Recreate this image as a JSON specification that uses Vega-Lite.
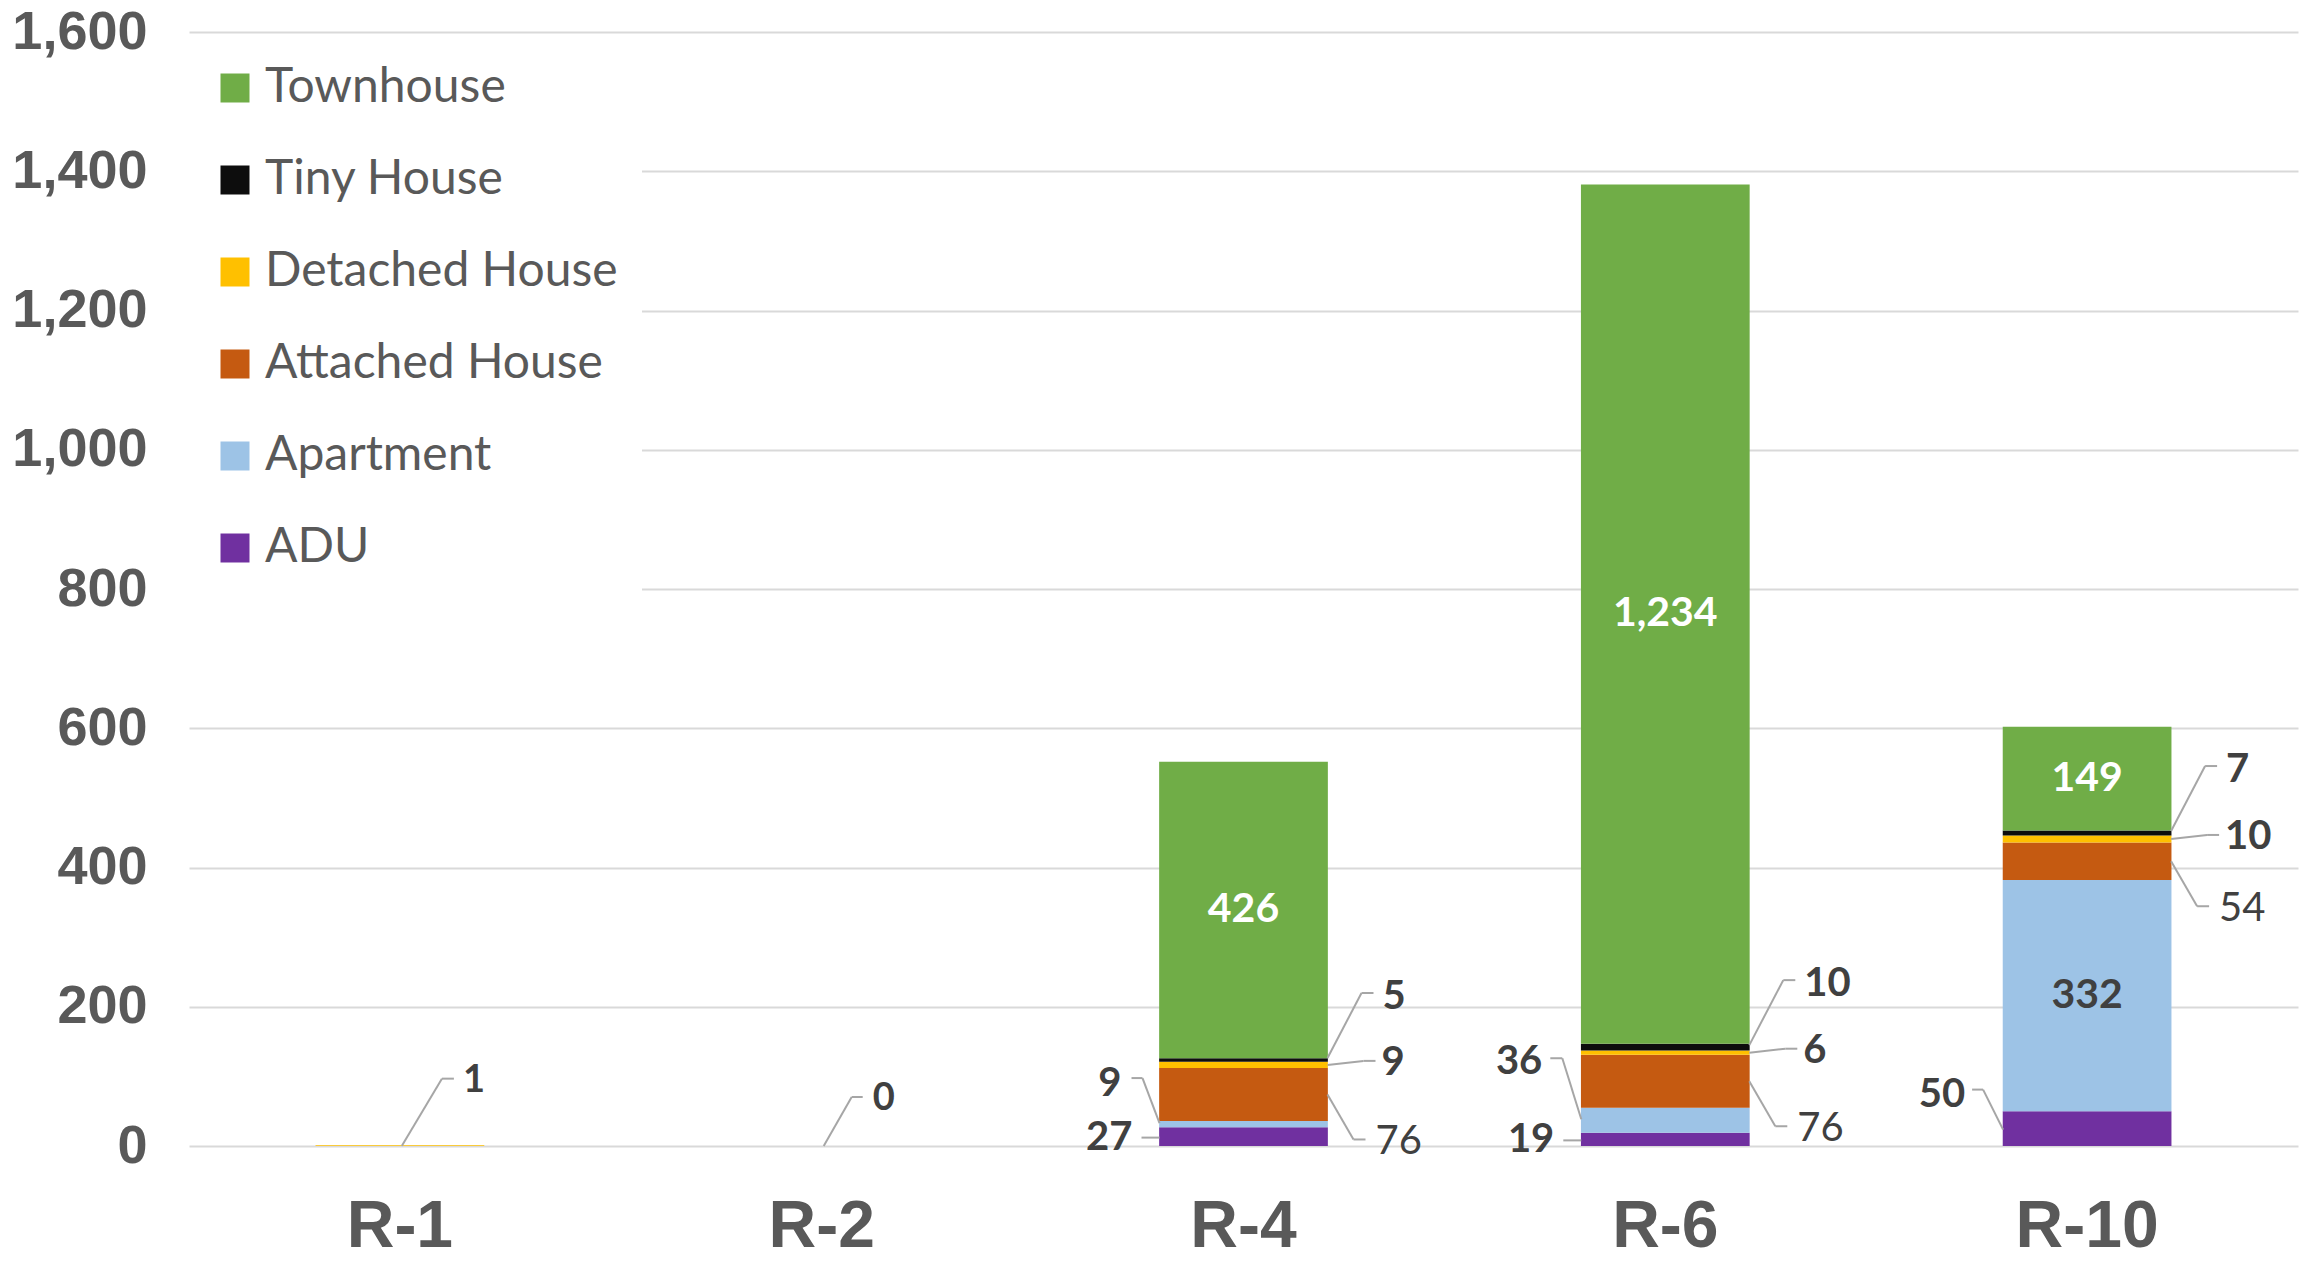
{
  "$schema": "https://vega.github.io/schema/vega-lite/v6.json",
  "width": 2109,
  "height": 1114,
  "autosize": {"type": "none"},
  "padding": {"left": 189, "top": 32, "right": 7, "bottom": 115},
  "background": "white",
  "config": {
    "view": {"stroke": null},
    "axisY": {"ticks": false, "domain": false, "grid": true, "gridColor": "#d9d9d9", "gridWidth": 2,
      "tickCount": 8, "labelExpr": "format(datum.value, ',')",
      "labelFont": "Liberation Sans", "labelFontWeight": "bold", "labelFontSize": 54,
      "labelColor": "#595959", "labelPadding": 42}
  },
  "data": {
    "values": [
      {"zone": "R-1", "type": "Detached House", "value": 1},
      {"zone": "R-2", "type": "Detached House", "value": 0},
      {"zone": "R-4", "type": "ADU", "value": 27},
      {"zone": "R-4", "type": "Apartment", "value": 9},
      {"zone": "R-4", "type": "Attached House", "value": 76},
      {"zone": "R-4", "type": "Detached House", "value": 9},
      {"zone": "R-4", "type": "Tiny House", "value": 5},
      {"zone": "R-4", "type": "Townhouse", "value": 426},
      {"zone": "R-6", "type": "ADU", "value": 19},
      {"zone": "R-6", "type": "Apartment", "value": 36},
      {"zone": "R-6", "type": "Attached House", "value": 76},
      {"zone": "R-6", "type": "Detached House", "value": 6},
      {"zone": "R-6", "type": "Tiny House", "value": 10},
      {"zone": "R-6", "type": "Townhouse", "value": 1234},
      {"zone": "R-10", "type": "ADU", "value": 50},
      {"zone": "R-10", "type": "Apartment", "value": 332},
      {"zone": "R-10", "type": "Attached House", "value": 54},
      {"zone": "R-10", "type": "Detached House", "value": 10},
      {"zone": "R-10", "type": "Tiny House", "value": 7},
      {"zone": "R-10", "type": "Townhouse", "value": 149}
    ]
  },
  "transform": [
    {"stack": "value", "groupby": ["zone"], "sort": [{"field": "type", "order": "ascending"}], "as": ["v0", "v1"]},
    {"calculate": "(datum.v0 + datum.v1) / 2", "as": "mid"}
  ],
  "encoding": {
    "x": {
      "field": "zone", "type": "nominal",
      "sort": ["R-1", "R-2", "R-4", "R-6", "R-10"],
      "scale": {"paddingInner": 0.6, "paddingOuter": 0.3},
      "axis": {"title": null, "labelAngle": 0, "ticks": false, "domain": false,
        "labelFont": "Liberation Sans", "labelFontWeight": "bold", "labelFontSize": 66,
        "labelColor": "#595959", "labelPadding": 100, "labelBaseline": "alphabetic"}
    }
  },
  "layer": [
    {
      "mark": {"type": "bar"},
      "encoding": {
        "y": {"field": "v0", "type": "quantitative", "title": null,
          "scale": {"domain": [0, 1600], "nice": false}},
        "y2": {"field": "v1"},
        "color": {"field": "type", "type": "nominal",
          "scale": {"domain": ["Townhouse", "Tiny House", "Detached House", "Attached House", "Apartment", "ADU"],
            "range": ["#70AD47", "#0D0D0D", "#FFC000", "#C55A11", "#9DC3E6", "#7030A0"]},
          "legend": {"title": null, "orient": "none", "legendX": -2, "legendY": 8,
            "symbolType": "square", "symbolSize": 841, "symbolStrokeWidth": 0,
            "labelFont": "Lato", "labelFontSize": 48, "labelColor": "#595959", "labelOffset": 6,
            "rowPadding": 44, "padding": 24, "fillColor": "white", "labelLimit": 700}}
      }
    },
    {
      "transform": [{"filter": "datum.type === 'Townhouse'"}],
      "mark": {"type": "text", "font": "Lato", "fontWeight": "bold", "fontSize": 41, "color": "white", "baseline": "middle"},
      "encoding": {
        "y": {"field": "mid", "type": "quantitative", "title": null},
        "text": {"field": "value", "type": "quantitative", "format": ","}
      }
    },
    {
      "transform": [{"filter": "datum.type === 'Apartment' && datum.zone === 'R-10'"}],
      "mark": {"type": "text", "font": "Lato", "fontWeight": "bold", "fontSize": 41, "color": "#404040", "baseline": "middle"},
      "encoding": {
        "y": {"field": "mid", "type": "quantitative", "title": null},
        "text": {"field": "value", "type": "quantitative", "format": ","}
      }
    },
    {
      "transform": [{"filter": "datum.type === 'Tiny House'"}],
      "encoding": {"y": {"field": "mid", "type": "quantitative", "title": null}},
      "layer": [
        {"mark": {"type": "rule", "color": "#a6a6a6", "strokeWidth": 2, "xOffset": 84, "x2Offset": 118, "yOffset": -2, "y2Offset": -67},
         "encoding": {"x2": {"field": "zone", "bandPosition": 0.5}, "y2": {"field": "mid"}}},
        {"mark": {"type": "rule", "color": "#a6a6a6", "strokeWidth": 2, "xOffset": 118, "x2Offset": 130, "yOffset": -67, "y2Offset": -67},
         "encoding": {"x2": {"field": "zone", "bandPosition": 0.5}, "y2": {"field": "mid"}}},
        {"mark": {"type": "text", "font": "Lato", "fontWeight": "bold", "fontSize": 40, "color": "#404040", "baseline": "middle", "align": "left", "dx": 139, "dy": -63},
         "encoding": {"text": {"field": "value", "type": "quantitative", "format": ","}}}
      ]
    },
    {
      "transform": [{"filter": "datum.type === 'Detached House' && datum.zone !== 'R-1' && datum.zone !== 'R-2'"}],
      "encoding": {"y": {"field": "mid", "type": "quantitative", "title": null}},
      "layer": [
        {"mark": {"type": "rule", "color": "#a6a6a6", "strokeWidth": 2, "xOffset": 84, "x2Offset": 120, "yOffset": 0, "y2Offset": -4},
         "encoding": {"x2": {"field": "zone", "bandPosition": 0.5}, "y2": {"field": "mid"}}},
        {"mark": {"type": "rule", "color": "#a6a6a6", "strokeWidth": 2, "xOffset": 120, "x2Offset": 132, "yOffset": -4, "y2Offset": -4},
         "encoding": {"x2": {"field": "zone", "bandPosition": 0.5}, "y2": {"field": "mid"}}},
        {"mark": {"type": "text", "font": "Lato", "fontWeight": "bold", "fontSize": 40, "color": "#404040", "baseline": "middle", "align": "left", "dx": 138, "dy": -2},
         "encoding": {"text": {"field": "value", "type": "quantitative", "format": ","}}}
      ]
    },
    {
      "transform": [{"filter": "datum.type === 'Attached House'"}],
      "encoding": {"y": {"field": "mid", "type": "quantitative", "title": null}},
      "layer": [
        {"mark": {"type": "rule", "color": "#a6a6a6", "strokeWidth": 2, "xOffset": 84, "x2Offset": 110, "yOffset": 0, "y2Offset": 45},
         "encoding": {"x2": {"field": "zone", "bandPosition": 0.5}, "y2": {"field": "mid"}}},
        {"mark": {"type": "rule", "color": "#a6a6a6", "strokeWidth": 2, "xOffset": 110, "x2Offset": 122, "yOffset": 45, "y2Offset": 45},
         "encoding": {"x2": {"field": "zone", "bandPosition": 0.5}, "y2": {"field": "mid"}}},
        {"mark": {"type": "text", "font": "Lato", "fontWeight": "normal", "fontSize": 40, "color": "#404040", "baseline": "middle", "align": "left", "dx": 132, "dy": 48},
         "encoding": {"text": {"field": "value", "type": "quantitative", "format": ","}}}
      ]
    },
    {
      "transform": [{"filter": "datum.type === 'Apartment' && datum.zone === 'R-4'"}],
      "encoding": {"y": {"field": "mid", "type": "quantitative", "title": null}},
      "layer": [
        {"mark": {"type": "rule", "color": "#a6a6a6", "strokeWidth": 2, "xOffset": -84, "x2Offset": -101, "yOffset": -1, "y2Offset": -46},
         "encoding": {"x2": {"field": "zone", "bandPosition": 0.5}, "y2": {"field": "mid"}}},
        {"mark": {"type": "rule", "color": "#a6a6a6", "strokeWidth": 2, "xOffset": -101, "x2Offset": -112, "yOffset": -46, "y2Offset": -46},
         "encoding": {"x2": {"field": "zone", "bandPosition": 0.5}, "y2": {"field": "mid"}}},
        {"mark": {"type": "text", "font": "Lato", "fontWeight": "bold", "fontSize": 40, "color": "#404040", "baseline": "middle", "align": "right", "dx": -122, "dy": -40},
         "encoding": {"text": {"field": "value", "type": "quantitative", "format": ","}}}
      ]
    },
    {
      "transform": [{"filter": "datum.type === 'Apartment' && datum.zone === 'R-6'"}],
      "encoding": {"y": {"field": "mid", "type": "quantitative", "title": null}},
      "layer": [
        {"mark": {"type": "rule", "color": "#a6a6a6", "strokeWidth": 2, "xOffset": -84, "x2Offset": -103, "yOffset": -1, "y2Offset": -62},
         "encoding": {"x2": {"field": "zone", "bandPosition": 0.5}, "y2": {"field": "mid"}}},
        {"mark": {"type": "rule", "color": "#a6a6a6", "strokeWidth": 2, "xOffset": -103, "x2Offset": -115, "yOffset": -62, "y2Offset": -62},
         "encoding": {"x2": {"field": "zone", "bandPosition": 0.5}, "y2": {"field": "mid"}}},
        {"mark": {"type": "text", "font": "Lato", "fontWeight": "bold", "fontSize": 40, "color": "#404040", "baseline": "middle", "align": "right", "dx": -123, "dy": -58},
         "encoding": {"text": {"field": "value", "type": "quantitative", "format": ","}}}
      ]
    },
    {
      "transform": [{"filter": "datum.type === 'ADU' && datum.zone !== 'R-10'"}],
      "encoding": {"y": {"field": "mid", "type": "quantitative", "title": null}},
      "layer": [
        {"mark": {"type": "rule", "color": "#a6a6a6", "strokeWidth": 2, "xOffset": -84, "x2Offset": -102, "yOffset": 1, "y2Offset": 1},
         "encoding": {"x2": {"field": "zone", "bandPosition": 0.5}, "y2": {"field": "mid"}}},
        {"mark": {"type": "text", "font": "Lato", "fontWeight": "bold", "fontSize": 40, "color": "#404040", "baseline": "middle", "align": "right", "dx": -111, "dy": 1},
         "encoding": {"text": {"field": "value", "type": "quantitative", "format": ","}}}
      ]
    },
    {
      "transform": [{"filter": "datum.type === 'ADU' && datum.zone === 'R-10'"}],
      "encoding": {"y": {"field": "mid", "type": "quantitative", "title": null}},
      "layer": [
        {"mark": {"type": "rule", "color": "#a6a6a6", "strokeWidth": 2, "xOffset": -84, "x2Offset": -104, "yOffset": 1, "y2Offset": -39},
         "encoding": {"x2": {"field": "zone", "bandPosition": 0.5}, "y2": {"field": "mid"}}},
        {"mark": {"type": "rule", "color": "#a6a6a6", "strokeWidth": 2, "xOffset": -104, "x2Offset": -115, "yOffset": -39, "y2Offset": -39},
         "encoding": {"x2": {"field": "zone", "bandPosition": 0.5}, "y2": {"field": "mid"}}},
        {"mark": {"type": "text", "font": "Lato", "fontWeight": "bold", "fontSize": 40, "color": "#404040", "baseline": "middle", "align": "right", "dx": -122, "dy": -34},
         "encoding": {"text": {"field": "value", "type": "quantitative", "format": ","}}}
      ]
    },
    {
      "transform": [{"filter": "datum.zone === 'R-1'"}],
      "encoding": {"y": {"field": "mid", "type": "quantitative", "title": null}},
      "layer": [
        {"mark": {"type": "rule", "color": "#a6a6a6", "strokeWidth": 2, "xOffset": 2, "x2Offset": 42, "yOffset": 0, "y2Offset": -67},
         "encoding": {"x2": {"field": "zone", "bandPosition": 0.5}, "y2": {"field": "mid"}}},
        {"mark": {"type": "rule", "color": "#a6a6a6", "strokeWidth": 2, "xOffset": 42, "x2Offset": 54, "yOffset": -67, "y2Offset": -67},
         "encoding": {"x2": {"field": "zone", "bandPosition": 0.5}, "y2": {"field": "mid"}}},
        {"mark": {"type": "text", "font": "Lato", "fontWeight": "bold", "fontSize": 38, "color": "#404040", "baseline": "middle", "align": "left", "dx": 63, "dy": -65},
         "encoding": {"text": {"field": "value", "type": "quantitative", "format": ","}}}
      ]
    },
    {
      "transform": [{"filter": "datum.zone === 'R-2'"}],
      "encoding": {"y": {"field": "mid", "type": "quantitative", "title": null}},
      "layer": [
        {"mark": {"type": "rule", "color": "#a6a6a6", "strokeWidth": 2, "xOffset": 2, "x2Offset": 30, "yOffset": 0, "y2Offset": -49},
         "encoding": {"x2": {"field": "zone", "bandPosition": 0.5}, "y2": {"field": "mid"}}},
        {"mark": {"type": "rule", "color": "#a6a6a6", "strokeWidth": 2, "xOffset": 30, "x2Offset": 41, "yOffset": -49, "y2Offset": -49},
         "encoding": {"x2": {"field": "zone", "bandPosition": 0.5}, "y2": {"field": "mid"}}},
        {"mark": {"type": "text", "font": "Lato", "fontWeight": "bold", "fontSize": 38, "color": "#404040", "baseline": "middle", "align": "left", "dx": 51, "dy": -47},
         "encoding": {"text": {"field": "value", "type": "quantitative", "format": ","}}}
      ]
    }
  ]
}
